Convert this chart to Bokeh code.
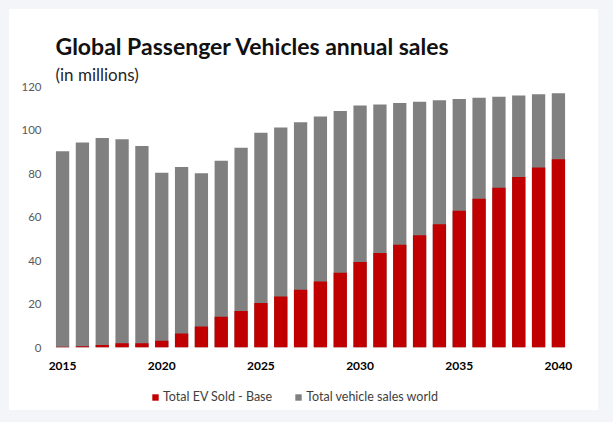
from bokeh.plotting import figure
from bokeh.models import Range1d, FixedTicker, Legend, LegendItem, Title
from bokeh.layouts import column
from bokeh.embed import file_html
from bokeh.resources import INLINE

years = list(range(2015, 2041))
total_sales = [90.2, 94.3, 96.3, 95.8, 92.6, 80.4, 83.0, 80.1, 85.9, 91.8,
               98.7, 101.2, 103.6, 106.2, 108.7, 111.3, 111.7, 112.4, 113.0, 113.7,
               114.3, 114.8, 115.3, 115.9, 116.4, 116.9]
ev_sales = [0.3, 0.6, 1.2, 2.0, 2.0, 3.1, 6.4, 9.6, 14.1, 16.8,
            20.5, 23.4, 26.6, 30.3, 34.4, 39.3, 43.5, 47.2, 51.6, 56.7,
            62.9, 68.4, 73.5, 78.4, 82.8, 86.6]
x_ticks = [2015, 2020, 2025, 2030, 2035, 2040]
y_ticks = [0, 20, 40, 60, 80, 100, 120]
series_names = ["Total EV Sold - Base", "Total vehicle sales world"]
title_text = "Global Passenger Vehicles annual sales"
subtitle_text = "(in millions)"

FONT = "Lato"
RED = "#c00000"
GRAY = "#808080"

p = figure(width=589, height=371, output_backend="svg", toolbar_location=None,
           x_range=Range1d(2014.29, 2040.71), y_range=Range1d(0, 120),
           min_border_left=39, min_border_right=26, min_border_top=77, min_border_bottom=33,
           background_fill_color="white", border_fill_color="white",
           outline_line_color=None)
p.title.visible = False

r_total = p.vbar(x=years, top=total_sales, width=0.67, fill_color=GRAY, line_color=None)
r_ev = p.vbar(x=years, top=ev_sales, width=0.67, fill_color=RED, line_color=None)

p.xgrid.visible = False
p.ygrid.visible = False

p.yaxis.ticker = FixedTicker(ticks=y_ticks)
p.yaxis.axis_line_color = None
p.yaxis.major_tick_line_color = None
p.yaxis.minor_tick_line_color = None
p.yaxis.major_tick_out = 0
p.yaxis.minor_tick_out = 0
p.yaxis.major_label_text_font = FONT
p.yaxis.major_label_text_font_size = "11.5px"
p.yaxis.major_label_text_color = "#595959"
p.yaxis.major_label_standoff = 7

p.xaxis.ticker = FixedTicker(ticks=x_ticks)
p.xaxis.axis_line_color = None
p.xaxis.major_tick_line_color = None
p.xaxis.minor_tick_line_color = None
p.xaxis.major_tick_out = 0
p.xaxis.minor_tick_out = 0
p.xaxis.major_label_text_font = FONT
p.xaxis.major_label_text_font_size = "12px"
p.xaxis.major_label_text_font_style = "bold"
p.xaxis.major_label_text_color = "#000000"
p.xaxis.major_label_standoff = 14

sub = Title(text=subtitle_text, align="left", offset=7, text_font=FONT,
            text_font_size="17px", text_font_style="normal", text_color="#262626",
            standoff=4)
main = Title(text=title_text, align="left", offset=7, text_font=FONT,
             text_font_size="23px", text_font_style="bold", text_color="#111111",
             standoff=0)
p.add_layout(sub, "above")
p.add_layout(main, "above")

# legend strip: its own small figure; its y range sits above the data,
# so its bars stay hidden and only the legend shows
pl = figure(width=589, height=30, output_backend="svg", toolbar_location=None,
            x_range=Range1d(2014.29, 2040.71), y_range=Range1d(200, 300),
            x_axis_type=None, y_axis_type=None,
            min_border_left=0, min_border_right=0, min_border_top=0, min_border_bottom=0,
            background_fill_color="white", border_fill_color="white",
            outline_line_color=None)
pl.title.visible = False
pl.xgrid.visible = False
pl.ygrid.visible = False
l_ev = pl.vbar(x=years, top=ev_sales, width=0.67, fill_color=RED, line_color=None)
l_total = pl.vbar(x=years, top=total_sales, width=0.67, fill_color=GRAY, line_color=None)

legend = Legend(items=[LegendItem(label=series_names[0], renderers=[l_ev]),
                       LegendItem(label=series_names[1], renderers=[l_total])],
                orientation="horizontal", location=(103, 6),
                glyph_width=8, glyph_height=8, label_standoff=4, spacing=22,
                label_text_font=FONT, label_text_font_size="12.5px",
                label_text_color="#404040", label_height=14,
                padding=2, margin=0, border_line_color=None,
                background_fill_alpha=0)
pl.add_layout(legend, "center")

card = column(p, pl, spacing=0, styles={"background-color": "white"})
layout = column(card, styles={"background-color": "#f3f5f8", "padding": "9px 15px 12px 9px"})

open("out.html", "w").write(file_html(layout, INLINE))
